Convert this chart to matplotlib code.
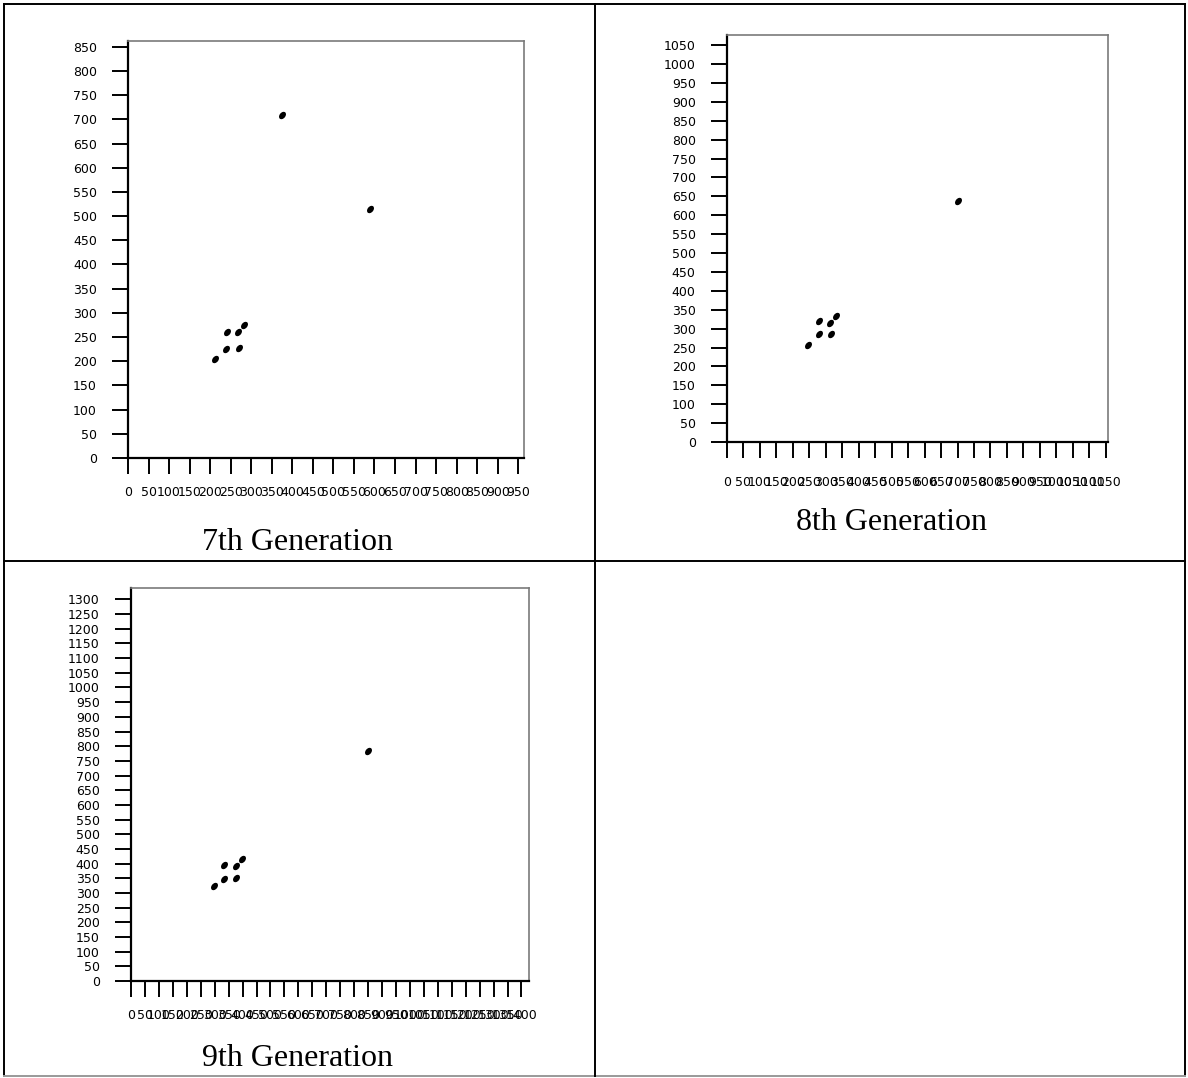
import numpy as np
import matplotlib
matplotlib.use('Agg')
import matplotlib.pyplot as plt
from matplotlib.path import Path
from matplotlib.transforms import Affine2D

# point coordinates
gen7_x = [211, 238, 269, 240, 268, 283, 374, 590]
gen7_y = [205, 226, 227, 261, 260, 274, 710, 515]

gen8_x = [246, 278, 316, 278, 313, 330, 700]
gen8_y = [258, 285, 285, 320, 316, 334, 638]

gen9_x = [299, 332, 377, 335, 375, 398, 849]
gen9_y = [324, 348, 351, 395, 392, 415, 782]

titles = ["7th Generation", "8th Generation", "9th Generation"]
x_max = [950, 1150, 1400]
y_max = [850, 1050, 1300]

W, H = 1188, 1078


def dot_marker():
    # slanted oval, like the blobs in the original
    circ = Path.unit_circle()
    tr = Affine2D().scale(1.0, 0.7).rotate_deg(50)
    return tr.transform_path(circ)


def draw_panel(fig, box, xs, ys, xtop, ytop, xlim, ylim, xpad):
    left, top, right, bottom = box
    ax = fig.add_axes([left / W, (H - bottom) / H, (right - left) / W, (bottom - top) / H])
    ax.plot(xs, ys, linestyle='none', marker=dot_marker(), markersize=5.5,
            color='black', markeredgewidth=0)
    ax.set_xlim(0, xlim)
    ax.set_ylim(0, ylim)
    ax.set_xticks(np.arange(0, xtop + 1, 50))
    ax.set_yticks(np.arange(0, ytop + 1, 50))
    ax.tick_params(axis='both', direction='out', length=11.5, width=1.4, labelsize=9,
                   color='black')
    ax.tick_params(axis='y', pad=11)
    ax.tick_params(axis='x', pad=xpad)
    for s in ['left', 'bottom']:
        ax.spines[s].set_color('black')
        ax.spines[s].set_linewidth(1.6)
    for s in ['top', 'right']:
        ax.spines[s].set_color('#7a7a7a')
        ax.spines[s].set_linewidth(1.2)
    return ax


def draw_figure():
    fig = plt.figure(figsize=(W / 100, H / 100), dpi=100)

    # table grid behind the charts
    grid = fig.add_axes([0, 0, 1, 1])
    grid.set_xlim(0, W)
    grid.set_ylim(H, 0)
    grid.axis('off')
    lw = 1.4
    grid.plot([4, 4], [4, 1076], color='black', lw=lw)
    grid.plot([1185, 1185], [4, 1076], color='black', lw=lw)
    grid.plot([4, 1185], [4, 4], color='black', lw=lw)
    grid.plot([4, 1185], [1076, 1076], color='#999999', lw=lw)
    grid.plot([595, 595], [4, 1076], color='black', lw=lw)
    grid.plot([4, 1185], [561, 561], color='black', lw=lw)

    draw_panel(fig, (128, 41, 524, 458), gen7_x, gen7_y, x_max[0], y_max[0], 964, 862, 9)
    draw_panel(fig, (727, 35, 1108, 442), gen8_x, gen8_y, x_max[1], y_max[1], 1157, 1077, 13)
    draw_panel(fig, (131, 588, 529, 981), gen9_x, gen9_y, x_max[2], y_max[2], 1427, 1339, 9)

    font = dict(family='Liberation Serif', fontsize=23, ha='center', va='center')
    grid.text(298, 543, titles[0], **font)
    grid.text(891, 523, titles[1], **font)
    grid.text(298, 1058, titles[2], **font)

    fig.savefig('out.png', dpi=100)


if __name__ == "__main__":
    draw_figure()
